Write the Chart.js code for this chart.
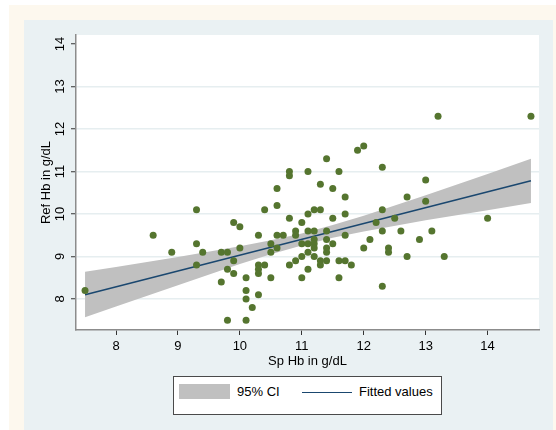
<!DOCTYPE html>
<html>
<head>
<meta charset="utf-8">
<script src="https://cdn.jsdelivr.net/npm/chart.js@4/dist/chart.umd.min.js"></script>
<style>
    html, body { margin: 0; padding: 0; background: #ffffff; }
    #page { position: relative; width: 556px; height: 430px; overflow: hidden; font-family: 'Liberation Sans', Arial, sans-serif; }
    #frame { position: absolute; left: 9px; top: 5px; width: 547px; height: 425px; background: #fdf8ee; }
    #region { position: absolute; left: 24px; top: 20px; width: 529px; height: 410px; background: #eaf1f3; }
    #chart { position: absolute; left: 0; top: 0; }
    #legend { position: absolute; left: 173px; top: 376px; width: 267px; height: 37px; background: #ffffff; border: 1px solid #4a4a4a; }
    .swatch { position: absolute; left: 5px; top: 7px; width: 51px; height: 15px; background: #c0c0c0; }
    .fitline { position: absolute; left: 128px; top: 15px; width: 50px; height: 0; border-top: 1.5px solid #1a476f; }
    .label { position: absolute; top: 7px; font-size: 13px; line-height: 15px; color: #000; }
</style>
</head>
<body>
<div id="page">
    <div id="frame"></div>
    <div id="region"></div>
    <canvas id="chart" width="556" height="430"></canvas>
    <div id="legend">
        <div class="swatch"></div>
        <div class="label" style="left: 63px;">95% CI</div>
        <div class="fitline"></div>
        <div class="label" style="left: 185px;">Fitted values</div>
    </div>
</div>
<script>
// Observed values (Sp Hb vs Ref Hb, g/dL)
const spHb = [
    7.5, 8.6, 8.9, 9.3, 9.3, 9.3, 9.4, 9.7, 9.7, 9.8, 9.8, 9.8, 9.9, 9.9, 9.9,
    10.0, 10.0, 10.1, 10.1, 10.1, 10.1, 10.2, 10.3, 10.3, 10.3, 10.3, 10.3,
    10.4, 10.4, 10.5, 10.5, 10.5, 10.6, 10.6, 10.6, 10.6, 10.7,
    10.8, 10.8, 10.8, 10.8, 10.9, 10.9, 10.9, 11.0, 11.0, 11.0, 11.0,
    11.1, 11.1, 11.1, 11.1, 11.1, 11.1, 11.2, 11.2, 11.2, 11.2, 11.2, 11.2,
    11.3, 11.3, 11.3, 11.3, 11.4, 11.4, 11.4, 11.4, 11.4, 11.4,
    11.5, 11.5, 11.5, 11.6, 11.6, 11.6, 11.7, 11.7, 11.7, 11.7, 11.8,
    11.9, 12.0, 12.0, 12.1, 12.2, 12.3, 12.3, 12.3, 12.3, 12.4, 12.4,
    12.5, 12.6, 12.7, 12.7, 12.9, 13.0, 13.0, 13.1, 13.2, 13.3, 14.0, 14.7
];
const refHb = [
    8.2, 9.5, 9.1, 10.1, 9.3, 8.8, 9.1, 9.1, 8.4, 9.1, 8.7, 7.5, 9.8, 8.9, 8.6,
    9.7, 9.2, 8.5, 8.2, 8.0, 7.5, 7.8, 9.5, 8.8, 8.7, 8.6, 8.1,
    10.1, 8.8, 9.3, 9.1, 8.5, 10.6, 10.2, 9.5, 9.2, 9.5,
    11.0, 10.9, 9.9, 8.8, 9.6, 9.5, 8.9, 9.8, 9.3, 9.0, 8.5,
    11.0, 10.0, 9.6, 9.3, 9.1, 8.7, 10.1, 9.6, 9.4, 9.3, 9.2, 9.0,
    10.7, 10.1, 8.9, 8.8, 11.3, 9.6, 9.4, 9.2, 9.1, 8.9,
    10.6, 9.9, 9.3, 11.0, 8.9, 8.5, 10.4, 10.0, 9.5, 8.9, 8.8,
    11.5, 11.6, 9.2, 9.4, 9.8, 11.1, 10.1, 9.6, 8.3, 9.2, 9.1,
    9.9, 9.6, 10.4, 9.0, 9.4, 10.8, 10.3, 9.6, 12.3, 9.0, 9.9, 12.3
];

// Fitted line and 95% CI band
const fitX = [7.5, 14.7];
const fitY = [8.10, 10.78];
const ciX = [7.5, 8, 9, 10, 10.5, 11, 11.5, 12, 13, 14, 14.7];
const ciUpper = [8.64, 8.75, 8.99, 9.24, 9.38, 9.54, 9.74, 9.96, 10.44, 10.94, 11.30];
const ciLower = [7.57, 7.82, 8.32, 8.82, 9.05, 9.26, 9.44, 9.59, 9.85, 10.09, 10.26];

const xTicks = [8, 9, 10, 11, 12, 13, 14];
const yTicks = [8, 9, 10, 11, 12, 13, 14];

const FONT = "'Liberation Sans', Arial, sans-serif";

function toPoints(xs, ys) {
    return xs.map((x, i) => ({ x: x, y: ys[i] }));
}

// white plot region
const plotBackground = {
    id: 'plotBackground',
    beforeDraw(chart) {
        const { ctx, chartArea } = chart;
        ctx.save();
        ctx.fillStyle = '#ffffff';
        ctx.fillRect(chartArea.left, chartArea.top, chartArea.right - chartArea.left, chartArea.bottom - chartArea.top);
        ctx.restore();
    }
};

new Chart(document.getElementById('chart'), {
    type: 'scatter',
    data: {
        datasets: [
            {
                label: 'ci-lower',
                data: toPoints(ciX, ciLower),
                showLine: true,
                borderWidth: 0,
                borderColor: 'rgba(0,0,0,0)',
                pointRadius: 0,
                fill: false,
                order: 3
            },
            {
                label: '95% CI',
                data: toPoints(ciX, ciUpper),
                showLine: true,
                borderWidth: 0,
                borderColor: 'rgba(0,0,0,0)',
                backgroundColor: '#c0c0c0',
                pointRadius: 0,
                fill: '-1',
                order: 2
            },
            {
                label: 'Fitted values',
                data: toPoints(fitX, fitY),
                showLine: true,
                borderColor: '#1a476f',
                borderWidth: 1.5,
                pointRadius: 0,
                fill: false,
                order: 1
            },
            {
                label: 'Ref Hb',
                data: toPoints(spHb, refHb),
                backgroundColor: '#55752f',
                borderWidth: 0,
                pointRadius: 3.5,
                order: 0
            }
        ]
    },
    options: {
        responsive: false,
        animation: false,
        layout: {
            padding: { left: 24, top: 35, right: 17, bottom: 60 }
        },
        scales: {
            x: {
                type: 'linear',
                position: 'bottom',
                min: 7.354,
                max: 14.83,
                afterBuildTicks: scale => { scale.ticks = xTicks.map(v => ({ value: v })); },
                afterFit: scale => { scale.height = 40; },
                ticks: {
                    font: { family: FONT, size: 13 },
                    color: '#000000',
                    padding: 4,
                    maxRotation: 0,
                    autoSkip: false
                },
                grid: {
                    drawOnChartArea: false,
                    drawTicks: true,
                    tickLength: 5,
                    tickColor: '#333333',
                    tickWidth: 1
                },
                border: { color: '#8c8c8c', width: 1.5 },
                title: {
                    display: true,
                    text: 'Sp Hb in g/dL',
                    font: { family: FONT, size: 13 },
                    color: '#000000',
                    padding: { top: 0, bottom: 1 }
                }
            },
            y: {
                type: 'linear',
                position: 'left',
                min: 7.27,
                max: 14.21,
                afterBuildTicks: scale => { scale.ticks = yTicks.map(v => ({ value: v })); },
                afterFit: scale => { scale.width = 52; },
                ticks: {
                    font: { family: FONT, size: 13 },
                    color: '#000000',
                    padding: 3,
                    minRotation: 90,
                    maxRotation: 90,
                    crossAlign: 'center',
                    autoSkip: false
                },
                grid: {
                    color: ctx => (ctx.tick && ctx.tick.value === 14) ? 'rgba(0,0,0,0)' : '#e6eef0',
                    lineWidth: 1.5,
                    drawTicks: true,
                    tickLength: 5,
                    tickColor: '#333333',
                    tickWidth: 1
                },
                border: { color: '#8c8c8c', width: 1.5 },
                title: {
                    display: true,
                    text: 'Ref Hb in g/dL',
                    font: { family: FONT, size: 13 },
                    color: '#000000',
                    padding: { top: 15, bottom: 0 }
                }
            }
        },
        plugins: {
            legend: { display: false },
            tooltip: { enabled: false }
        }
    },
    plugins: [plotBackground]
});
</script>
</body>
</html>
